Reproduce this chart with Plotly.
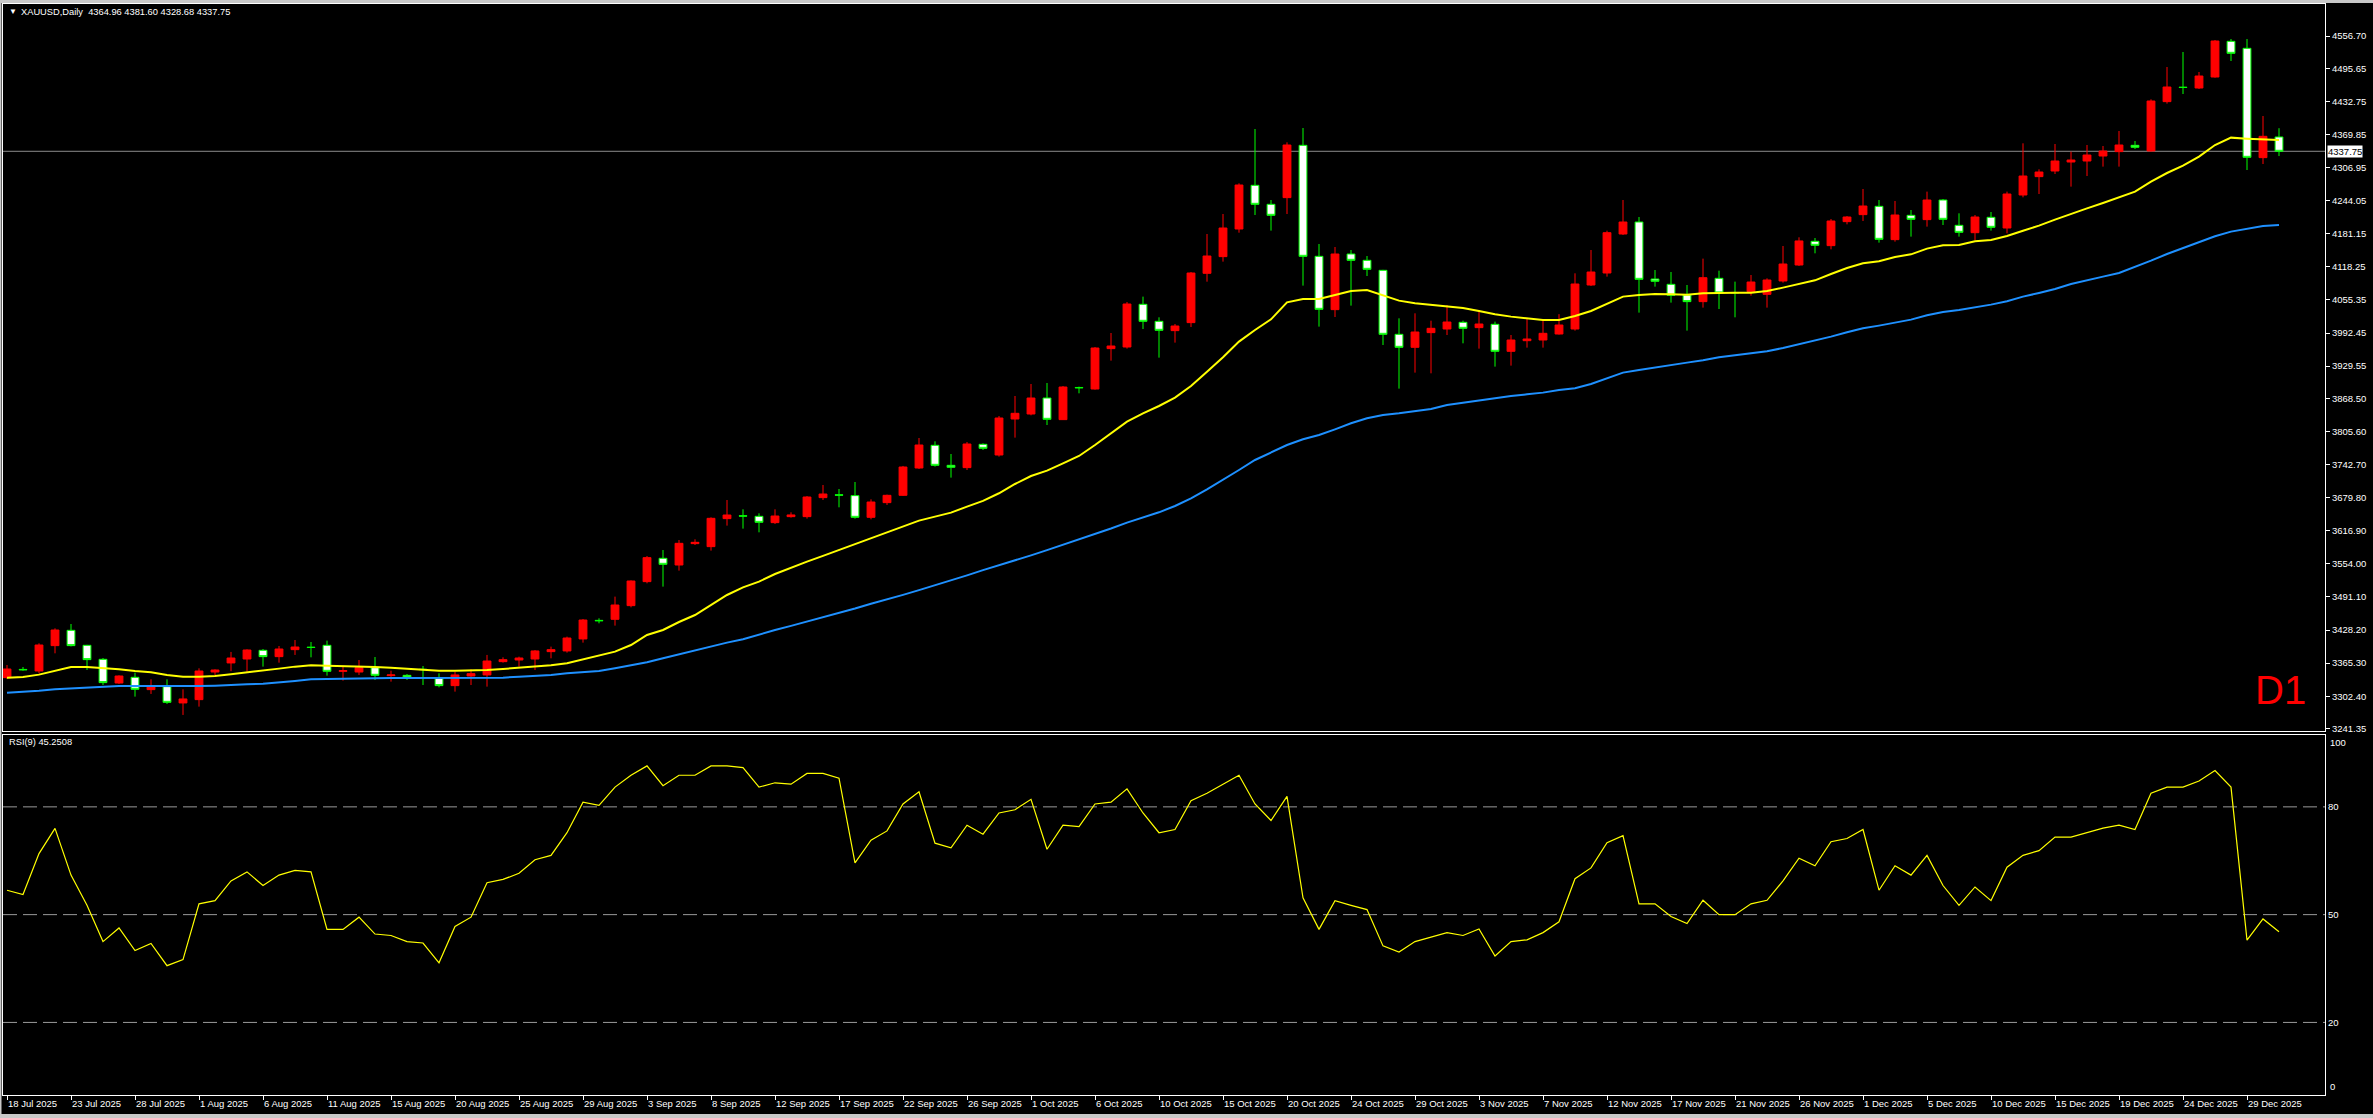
import plotly.graph_objects as go

# ---------------- data ----------------
header_text = "XAUUSD,Daily\u00a0\u00a04364.96 4381.60 4328.68 4337.75"
rsi_title = "RSI(9) 45.2508"
last_price = 4337.75

date_labels = ["18 Jul 2025", "23 Jul 2025", "28 Jul 2025", "1 Aug 2025", "6 Aug 2025", "11 Aug 2025",
               "15 Aug 2025", "20 Aug 2025", "25 Aug 2025", "29 Aug 2025", "3 Sep 2025", "8 Sep 2025",
               "12 Sep 2025", "17 Sep 2025", "22 Sep 2025", "26 Sep 2025", "1 Oct 2025", "6 Oct 2025",
               "10 Oct 2025", "15 Oct 2025", "20 Oct 2025", "24 Oct 2025", "29 Oct 2025", "3 Nov 2025",
               "7 Nov 2025", "12 Nov 2025", "17 Nov 2025", "21 Nov 2025", "26 Nov 2025", "1 Dec 2025",
               "5 Dec 2025", "10 Dec 2025", "15 Dec 2025", "19 Dec 2025", "24 Dec 2025", "29 Dec 2025"]
date_label_bars = [4 * k for k in range(len(date_labels))]

price_ticks = [4556.70, 4495.65, 4432.75, 4369.85, 4306.95, 4244.05, 4181.15, 4118.25, 4055.35,
               3992.45, 3929.55, 3868.50, 3805.60, 3742.70, 3679.80, 3616.90, 3554.00, 3491.10,
               3428.20, 3365.30, 3302.40, 3241.35]
rsi_ticks = [80, 50, 20]

opens = [3337.7, 3353.3, 3350.3, 3398.5, 3427.6, 3399.1, 3372.5, 3327.5, 3338.3, 3314.9,
         3320.6, 3289.6, 3295.9, 3348.4, 3365.6, 3373.1, 3389.6, 3377.6, 3390.9, 3395.6,
         3399.1, 3349.7, 3348.4, 3356.6, 3341.5, 3342.1, 3353.6, 3337.0, 3322.5, 3340.8,
         3342.8, 3368.1, 3371.2, 3373.1, 3387.1, 3388.4, 3411.2, 3446.5, 3448.5, 3474.5,
         3520.1, 3564.4, 3551.7, 3592.3, 3586.6, 3639.8, 3645.2, 3644.2, 3632.2, 3643.6,
         3643.6, 3679.7, 3685.0, 3683.5, 3642.3, 3670.2, 3684.1, 3736.0, 3779.1, 3741.1,
         3736.7, 3781.0, 3760.7, 3829.1, 3838.6, 3869.0, 3827.9, 3889.0, 3886.1, 3962.8,
         3965.9, 4047.0, 4014.7, 3997.0, 4012.2, 4105.9, 4137.6, 4190.1, 4273.1, 4237.0,
         4249.7, 4349.1, 4138.2, 4036.9, 4142.6, 4130.6, 4111.6, 3990.0, 3965.3, 3993.2,
         4000.1, 4012.8, 4002.7, 4009.0, 3957.7, 3977.9, 3979.2, 3990.6, 4000.1, 4083.7,
         4106.5, 4180.6, 4203.4, 4095.1, 4085.0, 4064.7, 4052.1, 4096.4, 4069.5, 4071.1,
         4066.0, 4091.3, 4121.7, 4166.7, 4158.5, 4204.1, 4217.4, 4233.2, 4169.9, 4216.1,
         4207.9, 4245.2, 4197.1, 4183.1, 4212.3, 4192.0, 4254.7, 4289.6, 4300.3, 4317.4,
         4319.3, 4328.8, 4337.1, 4349.1, 4338.3, 4432.1, 4459.6, 4458.0, 4478.9, 4546.7,
         4533.4, 4325.7, 4364.96]
highs = [3361.7, 3357.9, 3402.9, 3431.4, 3439.6, 3400.0, 3375.0, 3342.1, 3347.2, 3334.5,
         3334.5, 3315.5, 3355.4, 3353.5, 3386.5, 3391.5, 3392.1, 3397.8, 3409.2, 3405.4,
         3408.0, 3358.6, 3371.2, 3376.9, 3350.9, 3344.6, 3359.8, 3345.9, 3349.1, 3353.5,
         3380.8, 3376.3, 3377.6, 3390.2, 3396.6, 3415.6, 3449.1, 3450.4, 3491.6, 3522.5,
         3568.8, 3580.2, 3599.2, 3600.5, 3642.3, 3675.2, 3657.5, 3649.9, 3657.5, 3651.8,
         3682.8, 3703.7, 3696.1, 3709.4, 3676.5, 3685.4, 3739.9, 3793.0, 3786.7, 3762.6,
         3785.4, 3782.9, 3834.8, 3872.8, 3895.6, 3897.5, 3891.8, 3890.6, 3965.9, 3992.5,
         4051.4, 4061.6, 4022.3, 4009.6, 4108.4, 4180.6, 4218.6, 4276.9, 4380.1, 4245.2,
         4354.8, 4382.0, 4161.6, 4155.9, 4150.2, 4138.8, 4112.5, 4020.4, 4029.9, 4015.9,
         4045.7, 4015.9, 4036.2, 4014.1, 3988.7, 4020.4, 4017.2, 4028.3, 4105.9, 4150.2,
         4186.9, 4245.2, 4212.9, 4112.2, 4108.4, 4083.7, 4133.8, 4110.9, 4090.1, 4102.7,
         4096.4, 4157.8, 4174.3, 4173.0, 4209.1, 4214.8, 4266.1, 4245.2, 4243.3, 4226.2,
         4261.1, 4247.1, 4219.9, 4216.7, 4222.4, 4261.1, 4352.9, 4303.5, 4351.6, 4337.1,
         4349.7, 4347.8, 4376.3, 4357.3, 4436.5, 4497.9, 4526.4, 4488.4, 4549.2, 4551.1,
         4551.1, 4404.8, 4381.60]
lows = [3335.0, 3350.9, 3345.9, 3383.9, 3397.0, 3352.3, 3323.7, 3325.6, 3301.6, 3306.7,
        3287.7, 3266.8, 3282.6, 3342.8, 3350.0, 3349.1, 3358.6, 3366.2, 3380.8, 3376.3,
        3341.5, 3332.0, 3342.8, 3333.3, 3330.1, 3333.3, 3323.7, 3319.3, 3311.1, 3323.7,
        3320.6, 3366.2, 3358.6, 3352.2, 3374.4, 3385.2, 3404.2, 3440.9, 3436.5, 3471.3,
        3516.9, 3510.6, 3541.0, 3589.7, 3579.0, 3626.5, 3620.8, 3613.8, 3629.6, 3641.7,
        3639.8, 3675.2, 3661.3, 3639.8, 3638.5, 3665.8, 3682.8, 3734.1, 3738.6, 3717.7,
        3732.2, 3770.2, 3757.6, 3793.7, 3836.1, 3817.7, 3827.2, 3877.9, 3884.9, 3940.0,
        3962.8, 4000.1, 3945.7, 3974.2, 4003.9, 4090.0, 4128.1, 4183.1, 4216.7, 4187.0,
        4218.6, 4082.5, 4004.6, 4022.9, 4044.5, 4100.8, 3969.7, 3886.8, 3917.2, 3915.9,
        3988.7, 3972.9, 3962.8, 3928.6, 3930.5, 3964.7, 3964.7, 3989.5, 3997.0, 4081.8,
        4099.6, 4178.7, 4031.2, 4080.6, 4050.2, 3997.0, 4040.7, 4038.1, 4022.3, 4063.5,
        4040.7, 4088.2, 4119.8, 4143.9, 4151.5, 4199.0, 4205.3, 4164.2, 4166.1, 4175.6,
        4194.6, 4197.7, 4175.6, 4169.2, 4187.0, 4181.9, 4250.3, 4256.6, 4294.6, 4270.6,
        4290.8, 4308.6, 4308.6, 4342.1, 4337.1, 4428.3, 4446.6, 4456.1, 4477.6, 4509.3,
        4302.2, 4313.6, 4328.68]
closes = [3354.1, 3352.6, 3399.7, 3428.2, 3398.5, 3371.9, 3328.2, 3340.8, 3315.5, 3321.2,
          3290.8, 3297.2, 3350.3, 3352.2, 3375.0, 3390.2, 3377.6, 3392.1, 3395.9, 3395.0,
          3349.7, 3350.9, 3356.6, 3342.1, 3342.8, 3338.3, 3353.0, 3322.5, 3342.8, 3345.3,
          3369.3, 3371.9, 3375.0, 3388.4, 3390.9, 3413.0, 3447.2, 3445.8, 3475.7, 3521.3,
          3565.7, 3553.0, 3592.9, 3594.8, 3640.4, 3646.7, 3644.6, 3632.8, 3644.8, 3646.8,
          3680.9, 3686.6, 3684.4, 3642.3, 3671.4, 3684.1, 3737.9, 3779.7, 3741.1, 3737.3,
          3781.6, 3773.4, 3831.0, 3839.9, 3869.0, 3828.5, 3889.9, 3888.4, 3964.0, 3967.8,
          4047.6, 4014.7, 3997.6, 4005.8, 4106.5, 4138.8, 4192.0, 4273.7, 4237.0, 4216.1,
          4349.7, 4138.2, 4037.5, 4142.6, 4130.6, 4113.5, 3990.0, 3965.3, 3994.4, 4001.4,
          4013.4, 4001.4, 4009.6, 3957.7, 3979.2, 3981.1, 3991.9, 4007.7, 4085.6, 4108.4,
          4183.1, 4203.4, 4094.5, 4090.7, 4064.1, 4052.1, 4097.6, 4068.6, 4068.9, 4089.4,
          4093.2, 4123.6, 4167.4, 4159.1, 4205.3, 4212.9, 4233.8, 4170.5, 4216.7, 4208.5,
          4245.2, 4208.5, 4183.8, 4212.9, 4193.3, 4256.6, 4290.8, 4298.4, 4319.3, 4321.2,
          4330.7, 4338.3, 4349.7, 4345.3, 4433.3, 4459.9, 4459.0, 4480.8, 4547.3, 4523.9,
          4326.3, 4366.2, 4337.75]

ma_yellow = [3337.7, 3339.0, 3343.4, 3351.0, 3358.0, 3358.0, 3356.1, 3353.5, 3350.3, 3347.8,
             3342.8, 3339.6, 3339.6, 3340.8, 3344.0, 3347.2, 3351.0, 3354.8, 3358.6, 3361.1,
             3360.5, 3359.2, 3359.2, 3358.0, 3356.7, 3354.8, 3353.5, 3351.0, 3351.0, 3351.0,
             3352.2, 3354.1, 3356.1, 3358.0, 3361.1, 3364.9, 3371.9, 3378.8, 3387.1, 3399.7,
             3418.7, 3428.2, 3443.4, 3456.7, 3475.7, 3494.7, 3509.3, 3520.1, 3534.6, 3547.0,
             3558.0, 3569.0, 3580.0, 3592.0, 3603.0, 3614.0, 3625.0, 3636.0, 3643.6, 3651.2,
             3662.6, 3673.4, 3688.0, 3705.6, 3720.8, 3731.0, 3744.9, 3758.8, 3779.7, 3801.9,
             3824.1, 3839.9, 3853.8, 3869.7, 3891.8, 3919.0, 3946.3, 3976.1, 3998.2, 4018.5,
             4050.8, 4057.1, 4057.1, 4064.7, 4072.3, 4074.2, 4063.5, 4054.0, 4048.9, 4046.4,
             4042.6, 4040.0, 4034.3, 4028.0, 4023.6, 4020.4, 4017.2, 4017.2, 4024.8, 4034.3,
             4047.6, 4061.6, 4064.7, 4066.6, 4066.0, 4065.4, 4067.9, 4069.2, 4069.2, 4069.2,
             4072.3, 4078.7, 4085.6, 4092.6, 4104.6, 4116.0, 4124.9, 4128.7, 4136.9, 4142.0,
             4152.8, 4159.1, 4159.7, 4166.7, 4169.2, 4176.8, 4186.9, 4196.5, 4207.9, 4219.3,
             4229.4, 4239.5, 4249.7, 4261.1, 4280.1, 4296.5, 4310.5, 4327.6, 4349.7, 4363.7,
             4361.8, 4360.5, 4359.2]
ma_blue = [3309.2, 3310.4, 3312.9, 3315.5, 3317.4, 3318.7, 3320.6, 3321.8, 3321.8, 3321.8,
           3320.6, 3320.6, 3321.8, 3322.5, 3323.1, 3325.0, 3326.3, 3328.2, 3331.4, 3334.5,
           3335.2, 3335.2, 3335.8, 3337.0, 3337.0, 3337.0, 3337.0, 3337.0, 3337.0, 3337.0,
           3337.0, 3337.7, 3339.6, 3340.8, 3342.8, 3345.9, 3347.8, 3350.3, 3355.4, 3360.5,
           3366.8, 3374.4, 3382.0, 3390.2, 3396.6, 3404.2, 3410.5, 3420.0, 3428.2, 3436.0,
           3444.0, 3453.0, 3461.0, 3469.0, 3478.0, 3486.0, 3495.0, 3504.0, 3513.0, 3523.0,
           3532.0, 3542.0, 3551.0, 3561.0, 3570.0, 3580.0, 3590.0, 3600.0, 3611.0, 3621.0,
           3632.2, 3641.7, 3651.8, 3663.8, 3678.4, 3695.5, 3713.2, 3732.2, 3751.2, 3765.2,
           3779.7, 3790.5, 3798.7, 3809.5, 3820.9, 3830.4, 3836.7, 3839.9, 3844.4, 3848.1,
           3855.7, 3860.2, 3865.2, 3868.4, 3872.8, 3876.0, 3879.2, 3884.2, 3887.4, 3895.6,
           3907.0, 3917.2, 3922.2, 3927.3, 3931.8, 3936.2, 3940.6, 3946.3, 3950.1, 3953.3,
           3957.7, 3964.0, 3971.0, 3977.3, 3985.6, 3993.8, 4001.4, 4006.5, 4012.8, 4017.9,
           4026.1, 4032.5, 4036.2, 4040.7, 4046.4, 4052.7, 4061.6, 4068.6, 4076.1, 4085.6,
           4093.2, 4099.6, 4106.5, 4118.0, 4130.0, 4142.6, 4154.1, 4165.4, 4176.2, 4185.1,
           4190.2, 4195.8, 4197.7]
rsi_values = [56.8, 55.6, 67, 74, 61, 52.6, 42.5, 46.3, 40, 42,
              35.8, 37.5, 53, 53.9, 59.4, 61.9, 58.1, 61, 62.3, 61.9,
              45.9, 45.9, 49.3, 44.6, 44.2, 42.5, 42.1, 36.6, 46.7, 49.3,
              58.9, 59.8, 61.5, 65.3, 66.5, 72.8, 81.3, 80.4, 85.5, 88.8,
              91.4, 85.9, 88.8, 88.8, 91.4, 91.4, 90.9, 85.5, 86.7, 86.3,
              89.3, 89.3, 88, 64.4, 70.7, 73.3, 80.8, 84.2, 69.9, 68.6,
              74.9, 72.4, 78.3, 79.2, 82.1, 68.2, 74.9, 74.5, 80.8, 81.3,
              85, 78.3, 72.8, 73.7, 81.7, 83.8, 86.3, 88.8, 80.8, 76.2,
              82.9, 54.7, 45.9, 53.9, 52.6, 51.4, 41.3, 39.6, 42.5, 43.8,
              45, 44.2, 46, 38.5, 42.5, 43, 45, 48, 60, 63,
              70, 72, 53, 53, 49.5, 47.5, 54, 50, 50, 53,
              54, 59.4, 65.7, 63.6, 70.3, 71.2, 73.7, 56.8, 63.6, 61,
              66.5, 58.1, 52.6, 57.7, 53.9, 63.2, 66.5, 67.8, 71.6, 71.6,
              72.8, 74.1, 74.9, 73.7, 83.8, 85.5, 85.5, 87.2, 90.1, 85.5,
              42.9, 48.8, 45.2508]

bars = list(range(len(closes)))

# ---------------- layout geometry (pixels) ----------------
W, H = 2373, 1118
L, R, T, B = 3, 2325, 4, 1095          # plot area in pixels
MAIN_BOTTOM, RSI_TOP = 731, 735
PW, PH = R - L, B - T


def px_x(x):
    return (x - L) / PW


def px_y(y):
    return (B - y) / PH


FONT = "Liberation Sans, Arial, sans-serif"
WHITE = "#ffffff"

fig = go.Figure()

fig.add_trace(go.Candlestick(
    x=bars, open=opens, high=highs, low=lows, close=closes,
    increasing=dict(line=dict(color="#ff0000", width=1), fillcolor="#ff0000"),
    decreasing=dict(line=dict(color="#00ff00", width=1), fillcolor="#ffffff"),
    whiskerwidth=0, hoverinfo="skip", showlegend=False, xaxis="x", yaxis="y"))

fig.add_trace(go.Scatter(x=bars, y=ma_blue, mode="lines", line=dict(color="#1e90ff", width=2),
                         hoverinfo="skip", showlegend=False, xaxis="x", yaxis="y"))
fig.add_trace(go.Scatter(x=bars, y=ma_yellow, mode="lines", line=dict(color="#ffff00", width=2),
                         hoverinfo="skip", showlegend=False, xaxis="x", yaxis="y"))

fig.add_trace(go.Scatter(x=bars, y=rsi_values, mode="lines", line=dict(color="#ffff00", width=1.2),
                         hoverinfo="skip", showlegend=False, xaxis="x2", yaxis="y2"))

x_range = [(L - 7) / 16, (R - 7) / 16]

fig.update_layout(
    width=W, height=H, autosize=False,
    margin=dict(l=L, r=W - R, t=T, b=H - B, pad=0),
    paper_bgcolor="#000000", plot_bgcolor="#000000",
    showlegend=False,
    boxgap=0.3,
    xaxis=dict(domain=[0, 1], anchor="y", range=x_range, showticklabels=False, ticks="",
               showgrid=False, zeroline=False, showline=True, mirror=True, linecolor=WHITE,
               linewidth=1, rangeslider=dict(visible=False), matches="x2", fixedrange=True),
    yaxis=dict(domain=[px_y(MAIN_BOTTOM), 1], anchor="x", side="right",
               range=[3236.3, 4617.6], tickvals=price_ticks,
               ticktext=[f"{v:.2f}" for v in price_ticks],
               ticks="outside", ticklen=4, tickcolor=WHITE, tickwidth=1,
               tickfont=dict(family=FONT, size=9.5, color=WHITE),
               showgrid=False, zeroline=False, showline=True, mirror=True,
               linecolor=WHITE, linewidth=1, fixedrange=True),
    xaxis2=dict(domain=[0, 1], anchor="y2", range=x_range,
                tickvals=date_label_bars, ticktext=date_labels,
                ticks="outside", ticklen=4, tickcolor=WHITE, tickwidth=1,
                ticklabelposition="outside right",
                tickfont=dict(family=FONT, size=9.5, color=WHITE),
                showgrid=False, zeroline=False, showline=True, mirror=True,
                linecolor=WHITE, linewidth=1, fixedrange=True),
    yaxis2=dict(domain=[0, px_y(RSI_TOP)], anchor="x2", side="right",
                range=[-0.2, 100.0], tickvals=rsi_ticks, ticktext=[str(v) for v in rsi_ticks],
                ticks="", tickfont=dict(family=FONT, size=9.5, color=WHITE),
                showgrid=False, zeroline=False, showline=True, mirror=True,
                linecolor=WHITE, linewidth=1, fixedrange=True),
)

shapes = []
# current price line
shapes.append(dict(type="line", xref="x domain", yref="y", x0=0, x1=1, y0=last_price, y1=last_price,
                   line=dict(color="#8c8c8c", width=1), layer="below"))
# RSI level lines
for lv in rsi_ticks:
    shapes.append(dict(type="line", xref="x2 domain", yref="y2", x0=0, x1=1, y0=lv, y1=lv,
                       line=dict(color="#9a9a9a", width=1, dash="14px,6px"), layer="below"))
# outer light-grey window frame
shapes.append(dict(type="rect", xref="paper", yref="paper", x0=px_x(0), x1=px_x(W), y0=px_y(3), y1=px_y(0),
                   fillcolor="#c8c8c8", line=dict(width=0), layer="above"))
shapes.append(dict(type="rect", xref="paper", yref="paper", x0=px_x(0), x1=px_x(W), y0=px_y(H), y1=px_y(1114),
                   fillcolor="#c8c8c8", line=dict(width=0), layer="above"))
shapes.append(dict(type="rect", xref="paper", yref="paper", x0=px_x(0), x1=px_x(1.5), y0=px_y(H), y1=px_y(0),
                   fillcolor="#c8c8c8", line=dict(width=0), layer="above"))
fig.update_layout(shapes=shapes)

ann = []
ann.append(dict(xref="paper", yref="paper", x=px_x(7), y=px_y(12), xanchor="left", yanchor="middle",
                text="\u25bc", showarrow=False, font=dict(family=FONT, size=8, color=WHITE)))
ann.append(dict(xref="paper", yref="paper", x=px_x(19), y=px_y(12), xanchor="left", yanchor="middle",
                text=header_text, showarrow=False, font=dict(family=FONT, size=9.3, color=WHITE)))
ann.append(dict(xref="paper", yref="paper", x=px_x(7), y=px_y(742), xanchor="left", yanchor="middle",
                text=rsi_title, showarrow=False, font=dict(family=FONT, size=9.3, color=WHITE)))
ann.append(dict(xref="paper", yref="paper", x=px_x(2280), y=px_y(690), xanchor="center", yanchor="middle",
                text="D1", showarrow=False, font=dict(family=FONT, size=40, color="#ff0000")))
ann.append(dict(xref="paper", yref="y", x=px_x(2327), y=last_price, xanchor="left", yanchor="middle",
                text=f"{last_price:.2f}", showarrow=False, bgcolor="#ffffff", borderpad=0,
                font=dict(family=FONT, size=9.5, color="#000000")))
ann.append(dict(xref="paper", yref="y2", x=px_x(2328), y=100, xanchor="left", yanchor="top",
                text="100", showarrow=False, font=dict(family=FONT, size=9.5, color=WHITE)))
ann.append(dict(xref="paper", yref="y2", x=px_x(2328), y=0, xanchor="left", yanchor="bottom",
                text="0", showarrow=False, font=dict(family=FONT, size=9.5, color=WHITE)))
fig.update_layout(annotations=ann)

fig.write_html("out.html", config={"displayModeBar": False},
               post_script="document.body.style.margin='0';document.body.style.padding='0';"
                           "document.body.style.overflow='hidden';"
                           "document.documentElement.style.overflow='hidden';")
